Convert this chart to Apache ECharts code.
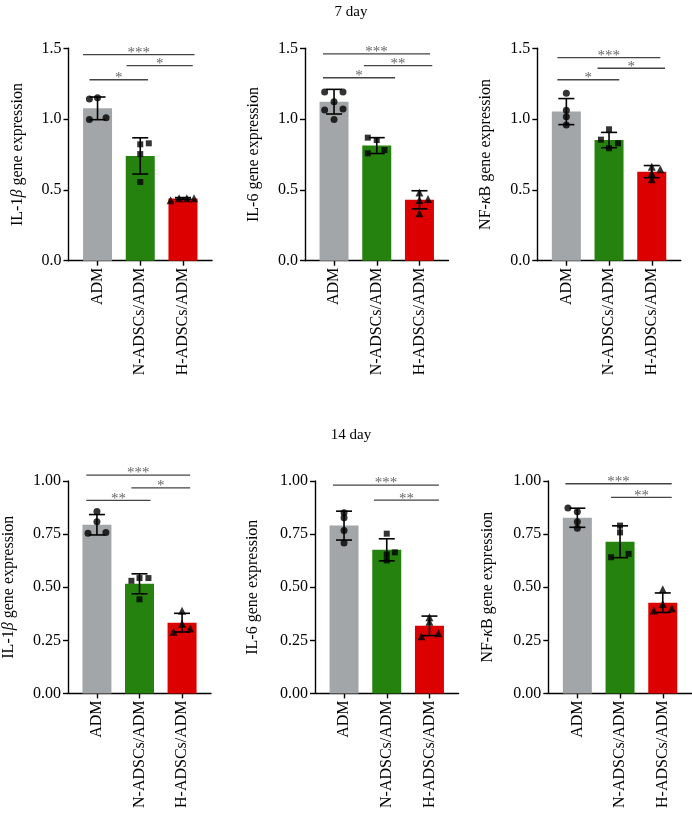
<!DOCTYPE html>
<html>
<head>
<meta charset="utf-8">
<script src="https://cdn.jsdelivr.net/npm/echarts@6/dist/echarts.min.js"></script>
<style>html,body{margin:0;padding:0;background:#fff}#c{width:692px;height:817px}</style>
</head>
<body>
<div id="c"></div>
<script>
// ---------- DATA ----------
const categories = ['ADM', 'N-ADSCs/ADM', 'H-ADSCs/ADM'];
const rowTitles = ['7 day', '14 day'];
const yNames = ['IL-1{i|β} gene expression', 'IL-6 gene expression', 'NF-{i|κ}B gene expression'];
const yTicksTop = [0, 0.5, 1.0, 1.5];
const yTicksBottom = [0, 0.25, 0.5, 0.75, 1.0];

// 7 day
const il1b7Mean = [1.076, 0.74, 0.44];
const il1b7SD = [0.08, 0.128, 0.006];
const il1b7Pts = [[1.142, 1.151, 0.998, 1.01], [0.822, 0.829, 0.753, 0.556], [0.427, 0.441, 0.441, 0.441]];
const il1b7Jit = [[-0.19, 0, -0.19, 0.2], [0, 0.2, 0, 0], [-0.29, -0.09, 0.09, 0.26]];
const il1b7Sig = [[-0.34, 2.27, 1.455, '***'], [0.68, 2.23, 1.377, '*'], [-0.19, 1.18, 1.278, '*']];

const il67Mean = [1.123, 0.813, 0.43];
const il67SD = [0.087, 0.056, 0.064];
const il67Pts = [[1.191, 1.191, 1.123, 1.064, 1.071, 0.998], [0.869, 0.852, 0.758, 0.782], [0.482, 0.429, 0.436, 0.335]];
const il67Jit = [[-0.22, 0.21, 0, -0.22, 0.21, 0], [-0.21, 0, -0.21, 0.18], [0, 0, 0.2, 0]];
const il67Sig = [[-0.26, 2.25, 1.46, '***'], [0.70, 2.30, 1.377, '**'], [-0.26, 1.43, 1.292, '*']];

const nfkb7Mean = [1.053, 0.852, 0.629];
const nfkb7SD = [0.092, 0.054, 0.043];
const nfkb7Pts = [[1.182, 1.062, 1.017, 0.958], [0.928, 0.855, 0.829, 0.794], [0.664, 0.645, 0.617, 0.575]];
const nfkb7Jit = [[0, 0, 0, 0], [0, -0.19, 0.21, 0], [0, 0.2, 0, 0]];
const nfkb7Sig = [[-0.21, 2.2, 1.434, '***'], [0.73, 2.31, 1.359, '*'], [-0.21, 1.24, 1.278, '*']];

// 14 day
const il1b14Mean = [0.794, 0.516, 0.333];
const il1b14SD = [0.048, 0.047, 0.044];
const il1b14Pts = [[0.856, 0.808, 0.754, 0.757], [0.53, 0.543, 0.543, 0.443], [0.389, 0.328, 0.29, 0.306]];
const il1b14Jit = [[0, 0, -0.21, 0.21], [-0.19, 0, 0.21, 0], [0, 0, -0.2, 0.19]];
const il1b14Sig = [[-0.25, 2.19, 1.028, '***'], [0.81, 2.19, 0.968, '*'], [-0.25, 1.26, 0.909, '**']];

const il614Mean = [0.79, 0.676, 0.318];
const il614SD = [0.068, 0.052, 0.046];
const il614Pts = [[0.85, 0.827, 0.767, 0.708], [0.752, 0.654, 0.664, 0.626], [0.358, 0.337, 0.269, 0.283]];
const il614Jit = [[0, 0, 0, 0], [0, 0, 0.19, 0], [0, 0, -0.19, 0.21]];
const il614Sig = [[-0.26, 2.22, 0.981, '***'], [0.70, 2.22, 0.91, '**']];

const nfkb14Mean = [0.827, 0.714, 0.427];
const nfkb14SD = [0.045, 0.075, 0.046];
const nfkb14Pts = [[0.873, 0.855, 0.808, 0.778], [0.79, 0.758, 0.641, 0.657], [0.49, 0.421, 0.39, 0.401]];
const nfkb14Jit = [[-0.22, 0, 0, 0], [0, 0, -0.21, 0.2], [0, 0, -0.21, 0.21]];
const nfkb14Sig = [[-0.28, 2.21, 0.987, '***'], [0.79, 2.21, 0.923, '**']];

// ---------- STYLE / LAYOUT ----------
const FONT = 'Liberation Serif';
const barColors = ['#A3A6A8', '#26820F', '#DC0000'];
const symbols = ['circle', 'rect', 'triangle'];
const symbolSizes = [7, 6, 8];

const panels = [
  {mean: il1b7Mean, sd: il1b7SD, pts: il1b7Pts, jit: il1b7Jit, sig: il1b7Sig, name: yNames[0], row: 0, left: 68.5, top: 48.3, gap: 43},
  {mean: il67Mean, sd: il67SD, pts: il67Pts, jit: il67Jit, sig: il67Sig, name: yNames[1], row: 0, left: 305, top: 48.3, gap: 43},
  {mean: nfkb7Mean, sd: nfkb7SD, pts: nfkb7Pts, jit: nfkb7Jit, sig: nfkb7Sig, name: yNames[2], row: 0, left: 537.3, top: 48.3, gap: 44},
  {mean: il1b14Mean, sd: il1b14SD, pts: il1b14Pts, jit: il1b14Jit, sig: il1b14Sig, name: yNames[0], row: 1, left: 67.5, top: 481, gap: 51},
  {mean: il614Mean, sd: il614SD, pts: il614Pts, jit: il614Jit, sig: il614Sig, name: yNames[1], row: 1, left: 315, top: 481, gap: 54},
  {mean: nfkb14Mean, sd: nfkb14SD, pts: nfkb14Pts, jit: nfkb14Jit, sig: nfkb14Sig, name: yNames[2], row: 1, left: 548.3, top: 481, gap: 53}
];

const grids = [], xAxes = [], yAxes = [], series = [];

panels.forEach((p, i) => {
  const ticks = p.row === 0 ? yTicksTop : yTicksBottom;
  const dec = p.row === 0 ? 1 : 2;
  grids.push({left: p.left, top: p.top, width: 143.5, height: 212.4, containLabel: false});
  xAxes.push({
    type: 'value', gridIndex: i, min: -0.68, max: 2.68,
    splitLine: {show: false},
    axisLine: {show: true, onZero: false, lineStyle: {color: '#000', width: 1.4}},
    axisTick: {show: true, customValues: [0, 1, 2], length: 5, lineStyle: {color: '#000', width: 1.4}},
    axisLabel: {
      customValues: [0, 1, 2], rotate: 90, margin: 7,
      formatter: v => categories[Math.round(v)],
      fontFamily: FONT, fontSize: 16, color: '#000'
    }
  });
  yAxes.push({
    type: 'value', gridIndex: i, min: 0, max: ticks[ticks.length - 1], interval: ticks[1] - ticks[0],
    splitLine: {show: false},
    axisLine: {show: true, onZero: false, lineStyle: {color: '#000', width: 1.4}},
    axisTick: {show: true, length: 5, lineStyle: {color: '#000', width: 1.4}},
    axisLabel: {margin: 7, formatter: v => v.toFixed(dec), fontFamily: FONT, fontSize: 16, color: '#000'},
    name: p.name, nameLocation: 'middle', nameGap: p.gap,
    nameTextStyle: {fontFamily: FONT, fontSize: 16, color: '#000',
      rich: {i: {fontStyle: 'italic', fontFamily: FONT, fontSize: 16, color: '#000'}}}
  });
  // bars
  series.push({
    type: 'bar', xAxisIndex: i, yAxisIndex: i, barWidth: 29, z: 2,
    data: p.mean.map((m, k) => ({value: [k, m], itemStyle: {color: barColors[k]}}))
  });
  // error bars
  series.push({
    type: 'custom', xAxisIndex: i, yAxisIndex: i, z: 3,
    encode: {x: 0, y: 1},
    data: p.mean.map((m, k) => [k, m, p.sd[k]]),
    renderItem: (params, api) => {
      const x = api.value(0), m = api.value(1), s = api.value(2);
      const a = api.coord([x, m + s]), b = api.coord([x, m - s]);
      const st = {stroke: '#000', lineWidth: 1.6};
      const hw = 8;
      return {type: 'group', children: [
        {type: 'line', shape: {x1: a[0], y1: a[1], x2: b[0], y2: b[1]}, style: st},
        {type: 'line', shape: {x1: a[0] - hw, y1: a[1], x2: a[0] + hw, y2: a[1]}, style: st},
        {type: 'line', shape: {x1: b[0] - hw, y1: b[1], x2: b[0] + hw, y2: b[1]}, style: st}
      ]};
    }
  });
  // points
  p.pts.forEach((arr, k) => {
    series.push({
      type: 'scatter', xAxisIndex: i, yAxisIndex: i, z: 4,
      symbol: symbols[k], symbolSize: symbolSizes[k],
      itemStyle: {color: '#000'},
      data: arr.map((v, j) => [k + p.jit[k][j], v])
    });
  });
  // significance brackets
  series.push({
    type: 'custom', xAxisIndex: i, yAxisIndex: i, z: 5, clip: false,
    encode: {x: [0, 1], y: 2},
    data: p.sig,
    renderItem: (params, api) => {
      const x1 = api.value(0), x2 = api.value(1), y = api.value(2);
      const lab = p.sig[params.dataIndex][3];
      const a = api.coord([x1, y]), b = api.coord([x2, y]);
      return {type: 'group', children: [
        {type: 'line', shape: {x1: a[0], y1: a[1], x2: b[0], y2: b[1]}, style: {stroke: '#444', lineWidth: 1.3}},
        {type: 'text', x: (a[0] + b[0]) / 2, y: a[1] + 6,
          style: {text: lab, fontFamily: FONT, fontSize: 15, fill: '#666', align: 'center', verticalAlign: 'bottom'}}
      ]};
    }
  });
});

const chart = echarts.init(document.getElementById('c'), null, {renderer: 'canvas'});
chart.setOption({
  animation: false,
  backgroundColor: '#fff',
  title: [
    {text: rowTitles[0], left: 346, top: 0, textAlign: 'center', textStyle: {fontFamily: FONT, fontSize: 15, fontWeight: 'normal', color: '#000'}},
    {text: rowTitles[1], left: 346, top: 423, textAlign: 'center', textStyle: {fontFamily: FONT, fontSize: 15, fontWeight: 'normal', color: '#000'}}
  ],
  grid: grids, xAxis: xAxes, yAxis: yAxes, series: series
});
</script>
</body>
</html>
